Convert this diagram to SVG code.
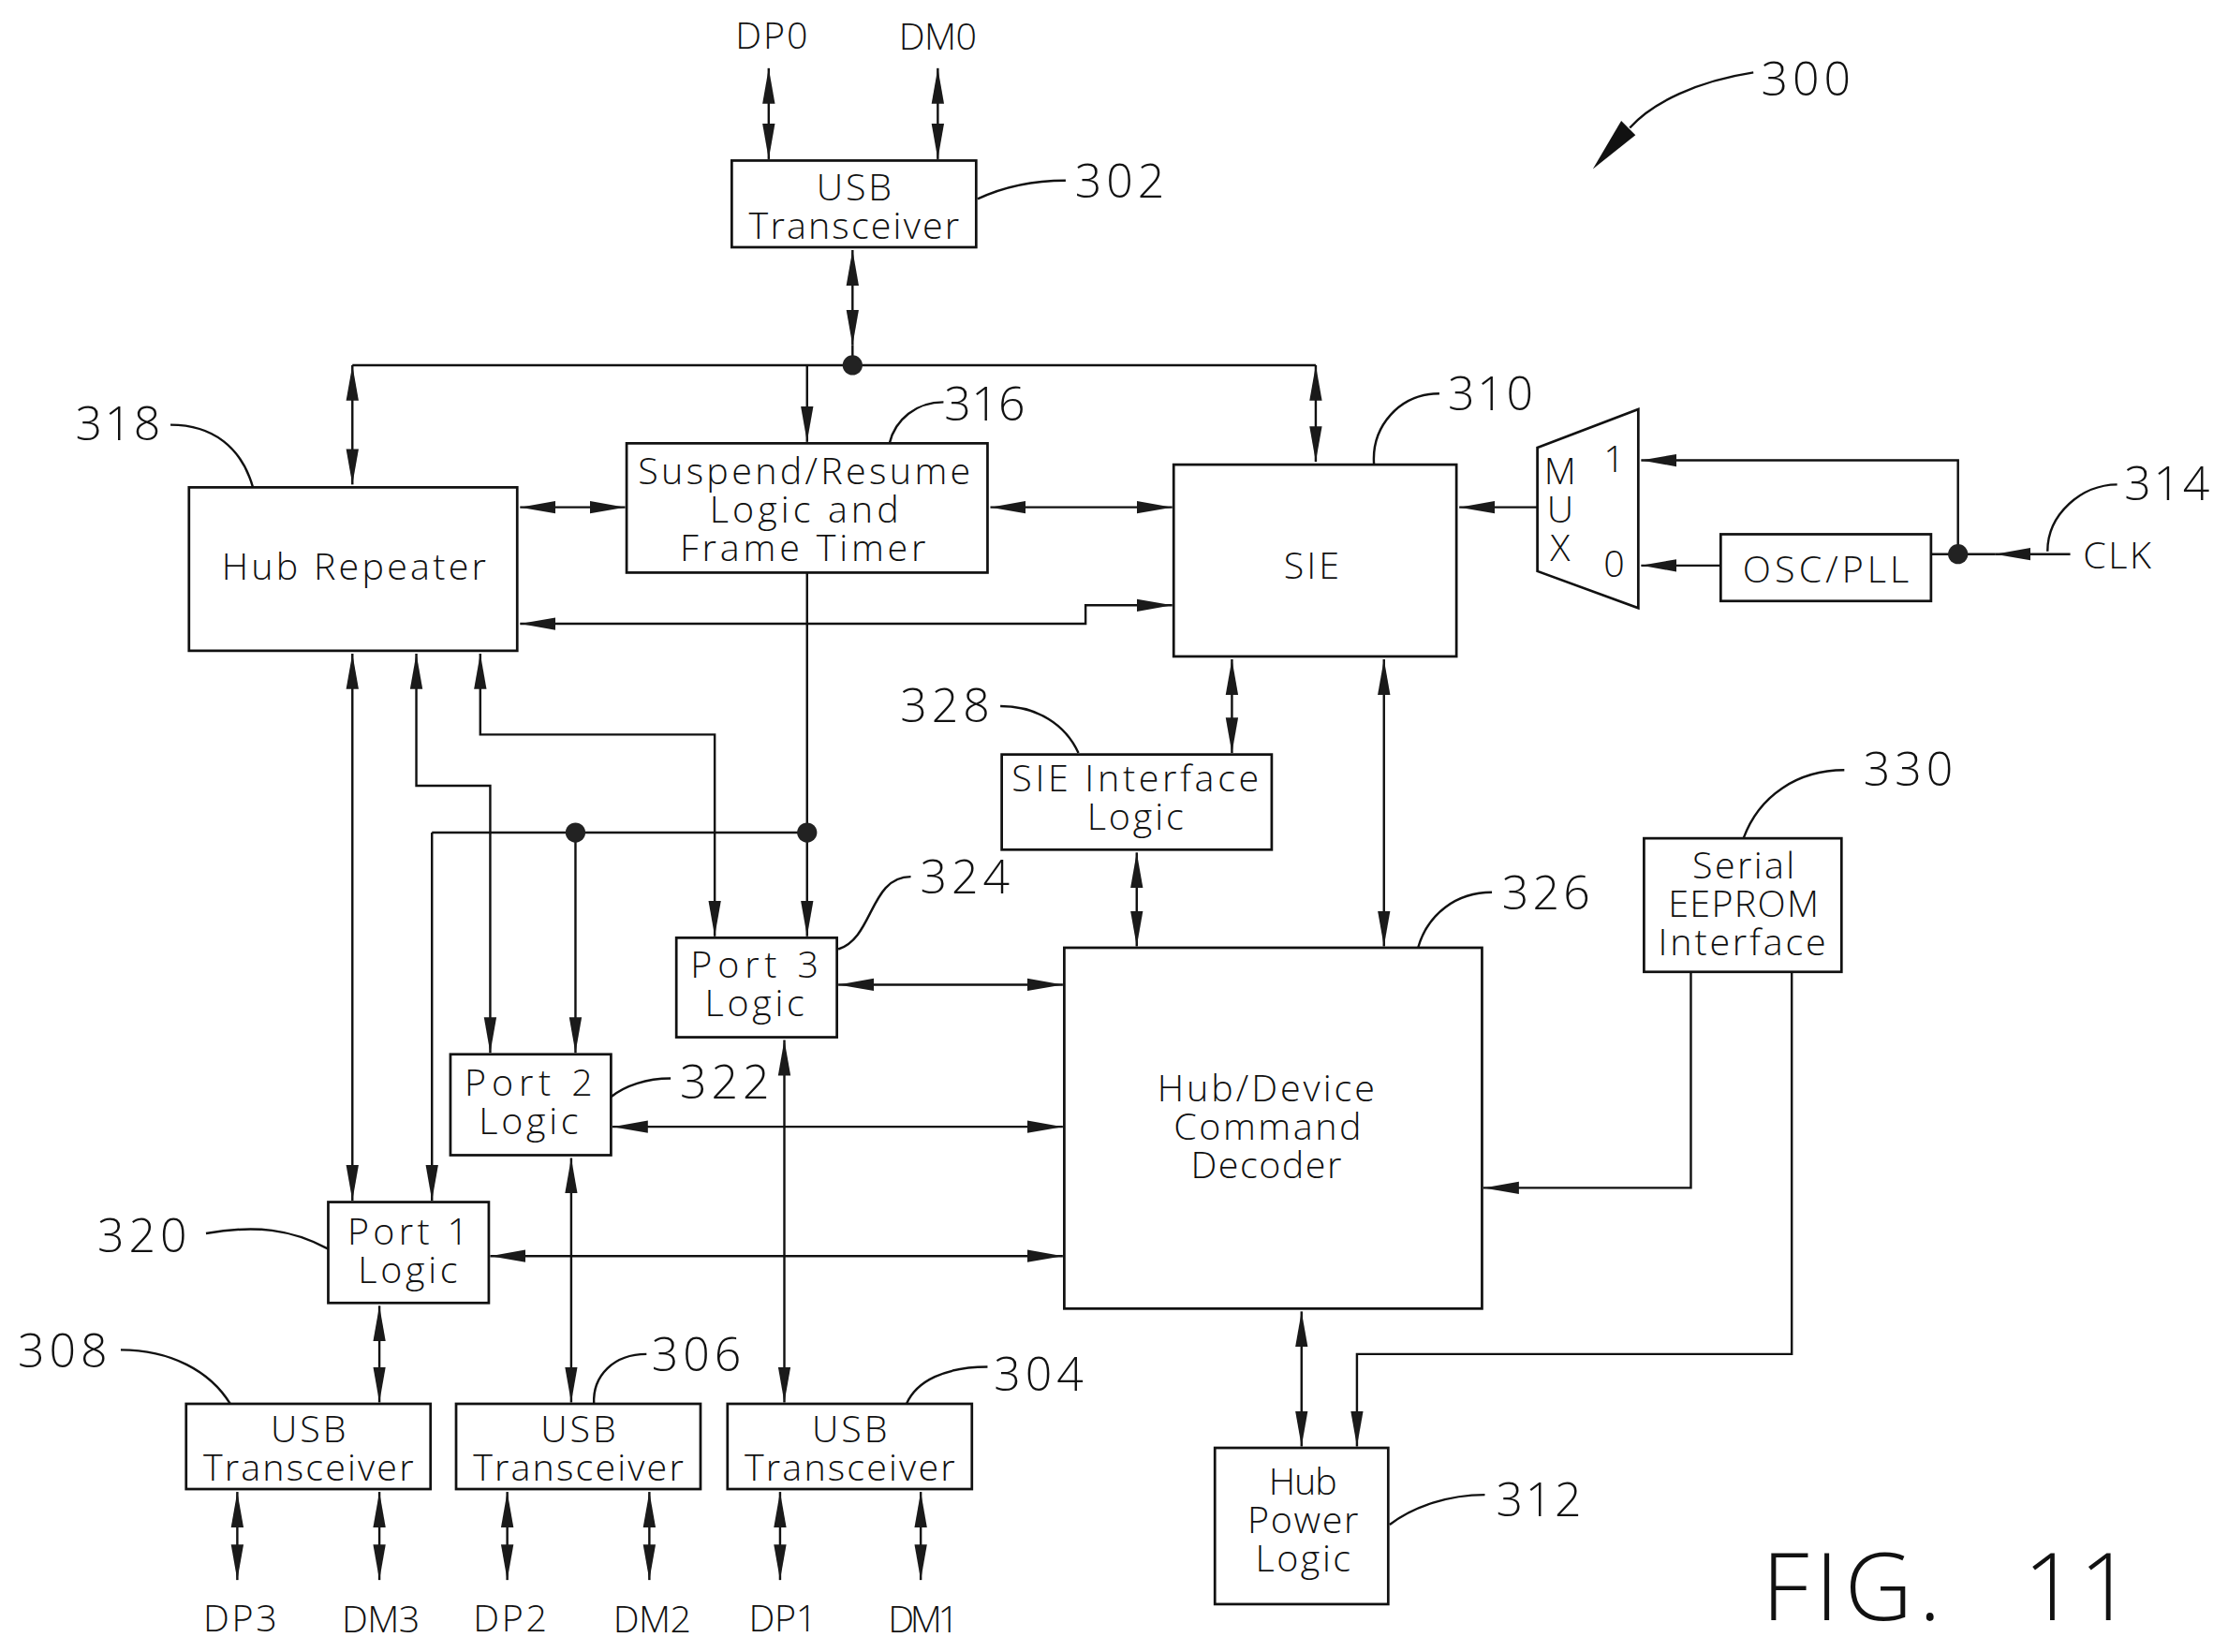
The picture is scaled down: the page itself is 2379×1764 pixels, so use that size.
<svg xmlns="http://www.w3.org/2000/svg" width="2379" height="1764" viewBox="0 0 2379 1764">
<defs>
<marker id="ah" markerUnits="userSpaceOnUse" markerWidth="26" markerHeight="10" refX="25" refY="5" orient="auto-start-reverse"><path d="M0 0.6 L25 5 L0 9.4 Z" fill="#1a1a1a"/></marker>
</defs>
<style>
text{font-family:"Open Sans","Liberation Sans",sans-serif;font-weight:300;fill:#111;text-anchor:middle}
.t{font-size:26px}
.n{font-size:33px}
.s{font-size:26px}
.f{font-size:66px;text-anchor:start}
rect,.mux{fill:#fff;stroke:#111;stroke-width:1.8}
.c{fill:none;stroke:#111;stroke-width:1.6}
.d{marker-start:url(#ah);marker-end:url(#ah)}
.a{marker-end:url(#ah)}
.l{fill:none;stroke:#111;stroke-width:1.6}
.dot{fill:#222}
</style>
<rect x="0" y="0" width="2379" height="1764" style="fill:#fff;stroke:none"/>
<g transform="scale(1.5172)">
<g id="connectors">
<path class="c d" d="M541 48V112"/>
<path class="c d" d="M660 48V112"/>
<path class="c" d="M248 257H926"/>
<path class="c d" d="M600 176V243"/>
<path class="c" d="M600 243V257"/>
<path class="c d" d="M248 257V341"/>
<path class="c a" d="M568 257V311"/>
<path class="c d" d="M926 257V325"/>
<path class="c d" d="M366 357H440"/>
<path class="c d" d="M697 357H825"/>
<path class="c d" d="M366 439H764V426H825"/>
<path class="c a" d="M1082 357H1027"/>
<path class="c a" d="M1378 390V324H1155"/>
<path class="c a" d="M1211 398H1155"/>
<path class="c" d="M1359 390H1404"/>
<path class="c a" d="M1457 390H1404"/>
<path class="c a" d="M568 403V659"/>
<path class="c" d="M304 586H568"/>
<path class="c a" d="M304 586V845"/>
<path class="c a" d="M405 586V741"/>
<path class="c d" d="M248 460V845"/>
<path class="c d" d="M293 460V553H345V741"/>
<path class="c d" d="M338 460V517H503V659"/>
<path class="c d" d="M590 693H748"/>
<path class="c d" d="M431 793H748"/>
<path class="c d" d="M345 884H748"/>
<path class="c d" d="M867 464V530"/>
<path class="c d" d="M800 600V666"/>
<path class="c d" d="M974 464V666"/>
<path class="c a" d="M1190 684V836H1044"/>
<path class="c a" d="M1261 684V953H955V1018"/>
<path class="c d" d="M916 923V1018"/>
<path class="c d" d="M552 732V987"/>
<path class="c d" d="M402 815V987"/>
<path class="c d" d="M267 919V987"/>
<path class="c d" d="M167 1050V1112"/>
<path class="c d" d="M267 1050V1112"/>
<path class="c d" d="M357 1050V1112"/>
<path class="c d" d="M457 1050V1112"/>
<path class="c d" d="M549 1050V1112"/>
<path class="c d" d="M648 1050V1112"/>
<circle class="dot" cx="600" cy="257" r="7"/>
<circle class="dot" cx="1378" cy="390" r="7"/>
<circle class="dot" cx="568" cy="586" r="7"/>
<circle class="dot" cx="405" cy="586" r="7"/>
</g>
<g id="n300">
<path class="l" d="M1234 51C1195 57 1163 72 1147 90"/>
<path d="M1121 119L1141 85L1151 95Z" fill="#111"/>
<text class="n" x="1271" y="67" textLength="63">300</text>
</g>
<g id="n302"><rect x="515" y="113" width="172" height="61"/>
<path class="l" d="M688 140C705 132 725 127 750 127"/>
<text class="t"><tspan x="601" y="141" textLength="53">USB</tspan><tspan x="601" y="168" textLength="148">Transceiver</tspan></text>
<text class="n" x="788" y="139" textLength="63">302</text></g>
<g id="n316"><rect x="441" y="312" width="254" height="91"/>
<path class="l" d="M626 312C630 295 645 283 664 283"/>
<text class="t"><tspan x="566" y="341" textLength="234">Suspend/Resume</tspan><tspan x="566" y="368" textLength="133">Logic and</tspan><tspan x="565" y="395" textLength="173">Frame Timer</tspan></text>
<text class="n" x="693" y="296" textLength="57">316</text></g>
<g id="n318"><rect x="133" y="343" width="231" height="115"/>
<path class="l" d="M120 299C150 299 170 315 178 343"/>
<text class="t" x="249" y="408" textLength="186">Hub Repeater</text>
<text class="n" x="83" y="310" textLength="60">318</text></g>
<g id="n310"><rect x="826" y="327" width="199" height="135"/>
<path class="l" d="M967 327C965 300 985 277 1013 277"/>
<text class="t" x="923" y="407" textLength="39">SIE</text>
<text class="n" x="1049" y="289" textLength="60">310</text></g>
<g id="mux"><path class="mux" d="M1082 315L1153 288V428L1082 402Z"/>
<text class="t"><tspan x="1098" y="341">M</tspan><tspan x="1098" y="368">U</tspan><tspan x="1098" y="395">X</tspan></text>
<text class="t" x="1136" y="332">1</text><text class="t" x="1136" y="406">0</text></g>
<g id="osc"><rect x="1211" y="376" width="148" height="47"/>
<text class="t" x="1285" y="410" textLength="117">OSC/PLL</text></g>
<g id="n314"><path class="l" d="M1441 388C1441 362 1465 341 1490 341"/>
<text class="n" x="1525" y="352" textLength="60">314</text>
<text class="s" x="1490" y="400" textLength="48">CLK</text></g>
<g id="n328"><rect x="705" y="531" width="190" height="67"/>
<path class="l" d="M704 497C730 497 750 510 759 530"/>
<text class="t"><tspan x="799" y="557" textLength="174">SIE Interface</tspan><tspan x="799" y="584" textLength="68">Logic</tspan></text>
<text class="n" x="665" y="508" textLength="63">328</text></g>
<g id="n330"><rect x="1157" y="590" width="139" height="94"/>
<path class="l" d="M1227 590C1238 560 1265 542 1298 542"/>
<text class="t"><tspan x="1227" y="618" textLength="72">Serial</tspan><tspan x="1227" y="645" textLength="106">EEPROM</tspan><tspan x="1226" y="672" textLength="118">Interface</tspan></text>
<text class="n" x="1343" y="553" textLength="63">330</text></g>
<g id="n326"><rect x="749" y="667" width="294" height="254"/>
<path class="l" d="M998 667C1005 643 1025 628 1050 628"/>
<text class="t"><tspan x="891" y="775" textLength="153">Hub/Device</tspan><tspan x="892" y="802" textLength="132">Command</tspan><tspan x="891" y="829" textLength="106">Decoder</tspan></text>
<text class="n" x="1088" y="640" textLength="62">326</text></g>
<g id="n324"><rect x="476" y="660" width="113" height="70"/>
<path class="l" d="M590 668C615 660 612 617 641 617"/>
<text class="t"><tspan x="531" y="688" textLength="90">Port 3</tspan><tspan x="531" y="715" textLength="70">Logic</tspan></text>
<text class="n" x="679" y="629" textLength="63">324</text></g>
<g id="n322"><rect x="317" y="742" width="113" height="71"/>
<path class="l" d="M430 772C440 764 455 759 472 759"/>
<text class="t"><tspan x="372" y="771" textLength="90">Port 2</tspan><tspan x="372" y="798" textLength="70">Logic</tspan></text>
<text class="n" x="510" y="773" textLength="63">322</text></g>
<g id="n320"><rect x="231" y="846" width="113" height="71"/>
<path class="l" d="M145 868C180 862 205 865 231 879"/>
<text class="t"><tspan x="287" y="876" textLength="85">Port 1</tspan><tspan x="287" y="903" textLength="70">Logic</tspan></text>
<text class="n" x="100" y="881" textLength="63">320</text></g>
<g id="n308"><rect x="131" y="988" width="172" height="60"/>
<path class="l" d="M85 950C120 950 148 965 162 988"/>
<text class="t"><tspan x="217" y="1015" textLength="53">USB</tspan><tspan x="217" y="1042" textLength="148">Transceiver</tspan></text>
<text class="n" x="44" y="962" textLength="63">308</text></g>
<g id="n306"><rect x="321" y="988" width="172" height="60"/>
<path class="l" d="M418 988C417 968 432 953 455 953"/>
<text class="t"><tspan x="407" y="1015" textLength="53">USB</tspan><tspan x="407" y="1042" textLength="148">Transceiver</tspan></text>
<text class="n" x="490" y="965" textLength="63">306</text></g>
<g id="n304"><rect x="512" y="988" width="172" height="60"/>
<path class="l" d="M638 988C645 972 665 962 695 962"/>
<text class="t"><tspan x="598" y="1015" textLength="53">USB</tspan><tspan x="598" y="1042" textLength="148">Transceiver</tspan></text>
<text class="n" x="731" y="979" textLength="63">304</text></g>
<g id="n312"><rect x="855" y="1019" width="122" height="110"/>
<path class="l" d="M978 1073C995 1060 1020 1052 1045 1052"/>
<text class="t"><tspan x="917" y="1052" textLength="48">Hub</tspan><tspan x="917" y="1079" textLength="78">Power</tspan><tspan x="917" y="1106" textLength="67">Logic</tspan></text>
<text class="n" x="1083" y="1067" textLength="60">312</text></g>
<g id="signals">
<text class="s" x="543" y="34" textLength="51">DP0</text><text class="s" x="660" y="35" textLength="55">DM0</text>
<text class="s" x="169" y="1148" textLength="52">DP3</text><text class="s" x="268" y="1149" textLength="55">DM3</text>
<text class="s" x="359" y="1148" textLength="52">DP2</text><text class="s" x="459" y="1149" textLength="55">DM2</text>
<text class="s" x="551" y="1148" textLength="48">DP1</text><text class="s" x="650" y="1149" textLength="50">DM1</text>
</g>
<g id="title"><text class="f" y="1140"><tspan x="1240" textLength="126">FIG.</tspan> <tspan x="1424" textLength="77">11</tspan></text></g>
</g>
</svg>
